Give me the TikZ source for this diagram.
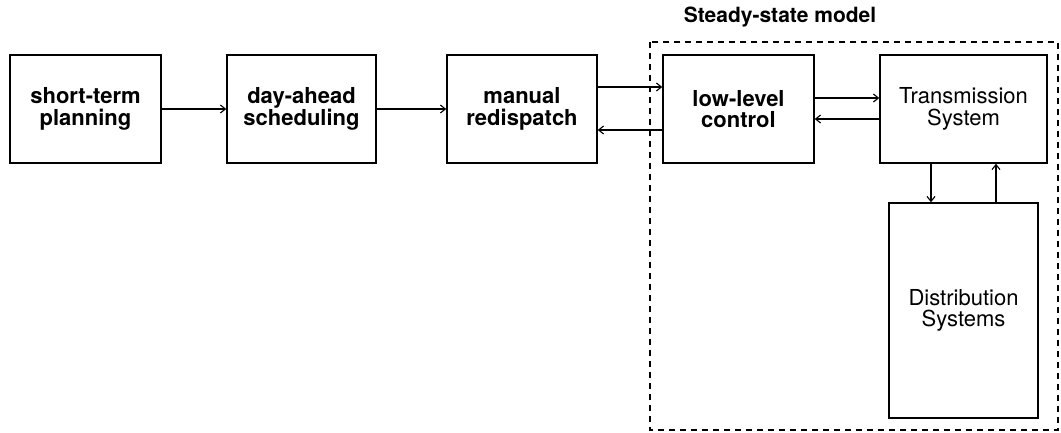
\documentclass[tikz,border=0pt]{standalone}
\usepackage{fontspec}
\setmainfont{TeX Gyre Heros}
\usetikzlibrary{arrows.meta}
\begin{document}
\begin{tikzpicture}[x=1pt,y=-1pt,
  blk/.style={draw,line width=1.4pt,inner sep=0pt,align=center,
    font=\fontsize{22}{21.5}\selectfont},
  bblk/.style={blk,font=\fontsize{22}{21.5}\selectfont\bfseries},
  arr/.style={line width=1.1pt,-{Straight Barb[length=5pt,width=8pt]}}]
\useasboundingbox (0,0) rectangle (1061,432);
% dashed frame of the steady-state model
\draw[line width=1.3pt,dash pattern=on 6pt off 5pt] (650,42) rectangle (1058,430);
\node[font=\fontsize{21}{22}\selectfont\bfseries] (title) at (780,17) {Steady-state model};
% blocks
\node[bblk,minimum width=151pt,minimum height=108pt] (stp) at (85.5,109) {short-term\\planning};
\node[bblk,minimum width=149pt,minimum height=108pt] (dap) at (301.5,109) {day-ahead\\scheduling};
\node[bblk,minimum width=150pt,minimum height=108pt] (mr) at (522,109) {manual\\redispatch};
\node[bblk,minimum width=151pt,minimum height=108pt] (llc) at (738.5,109) {low-level\\control};
\node[blk,minimum width=167pt,minimum height=108pt] (ts) at (963.5,109) {Transmission\\System};
\node[blk,minimum width=149pt,minimum height=215pt] (ds) at (963.5,310.5) {Distribution\\Systems};
% connections
\draw[arr] (stp.east) -- (dap.west);
\draw[arr] (dap.east) -- (mr.west);
\draw[arr] (mr.east |- 0,87) -- (llc.west |- 0,87);
\draw[arr] (llc.west |- 0,130) -- (mr.east |- 0,130);
\draw[arr] (llc.east |- 0,98) -- (ts.west |- 0,98);
\draw[arr] (ts.west |- 0,119) -- (llc.east |- 0,119);
\draw[arr] (ts.south -| 931,0) -- (ds.north -| 931,0);
\draw[arr] (ds.north -| 996,0) -- (ts.south -| 996,0);
\end{tikzpicture}
\end{document}
